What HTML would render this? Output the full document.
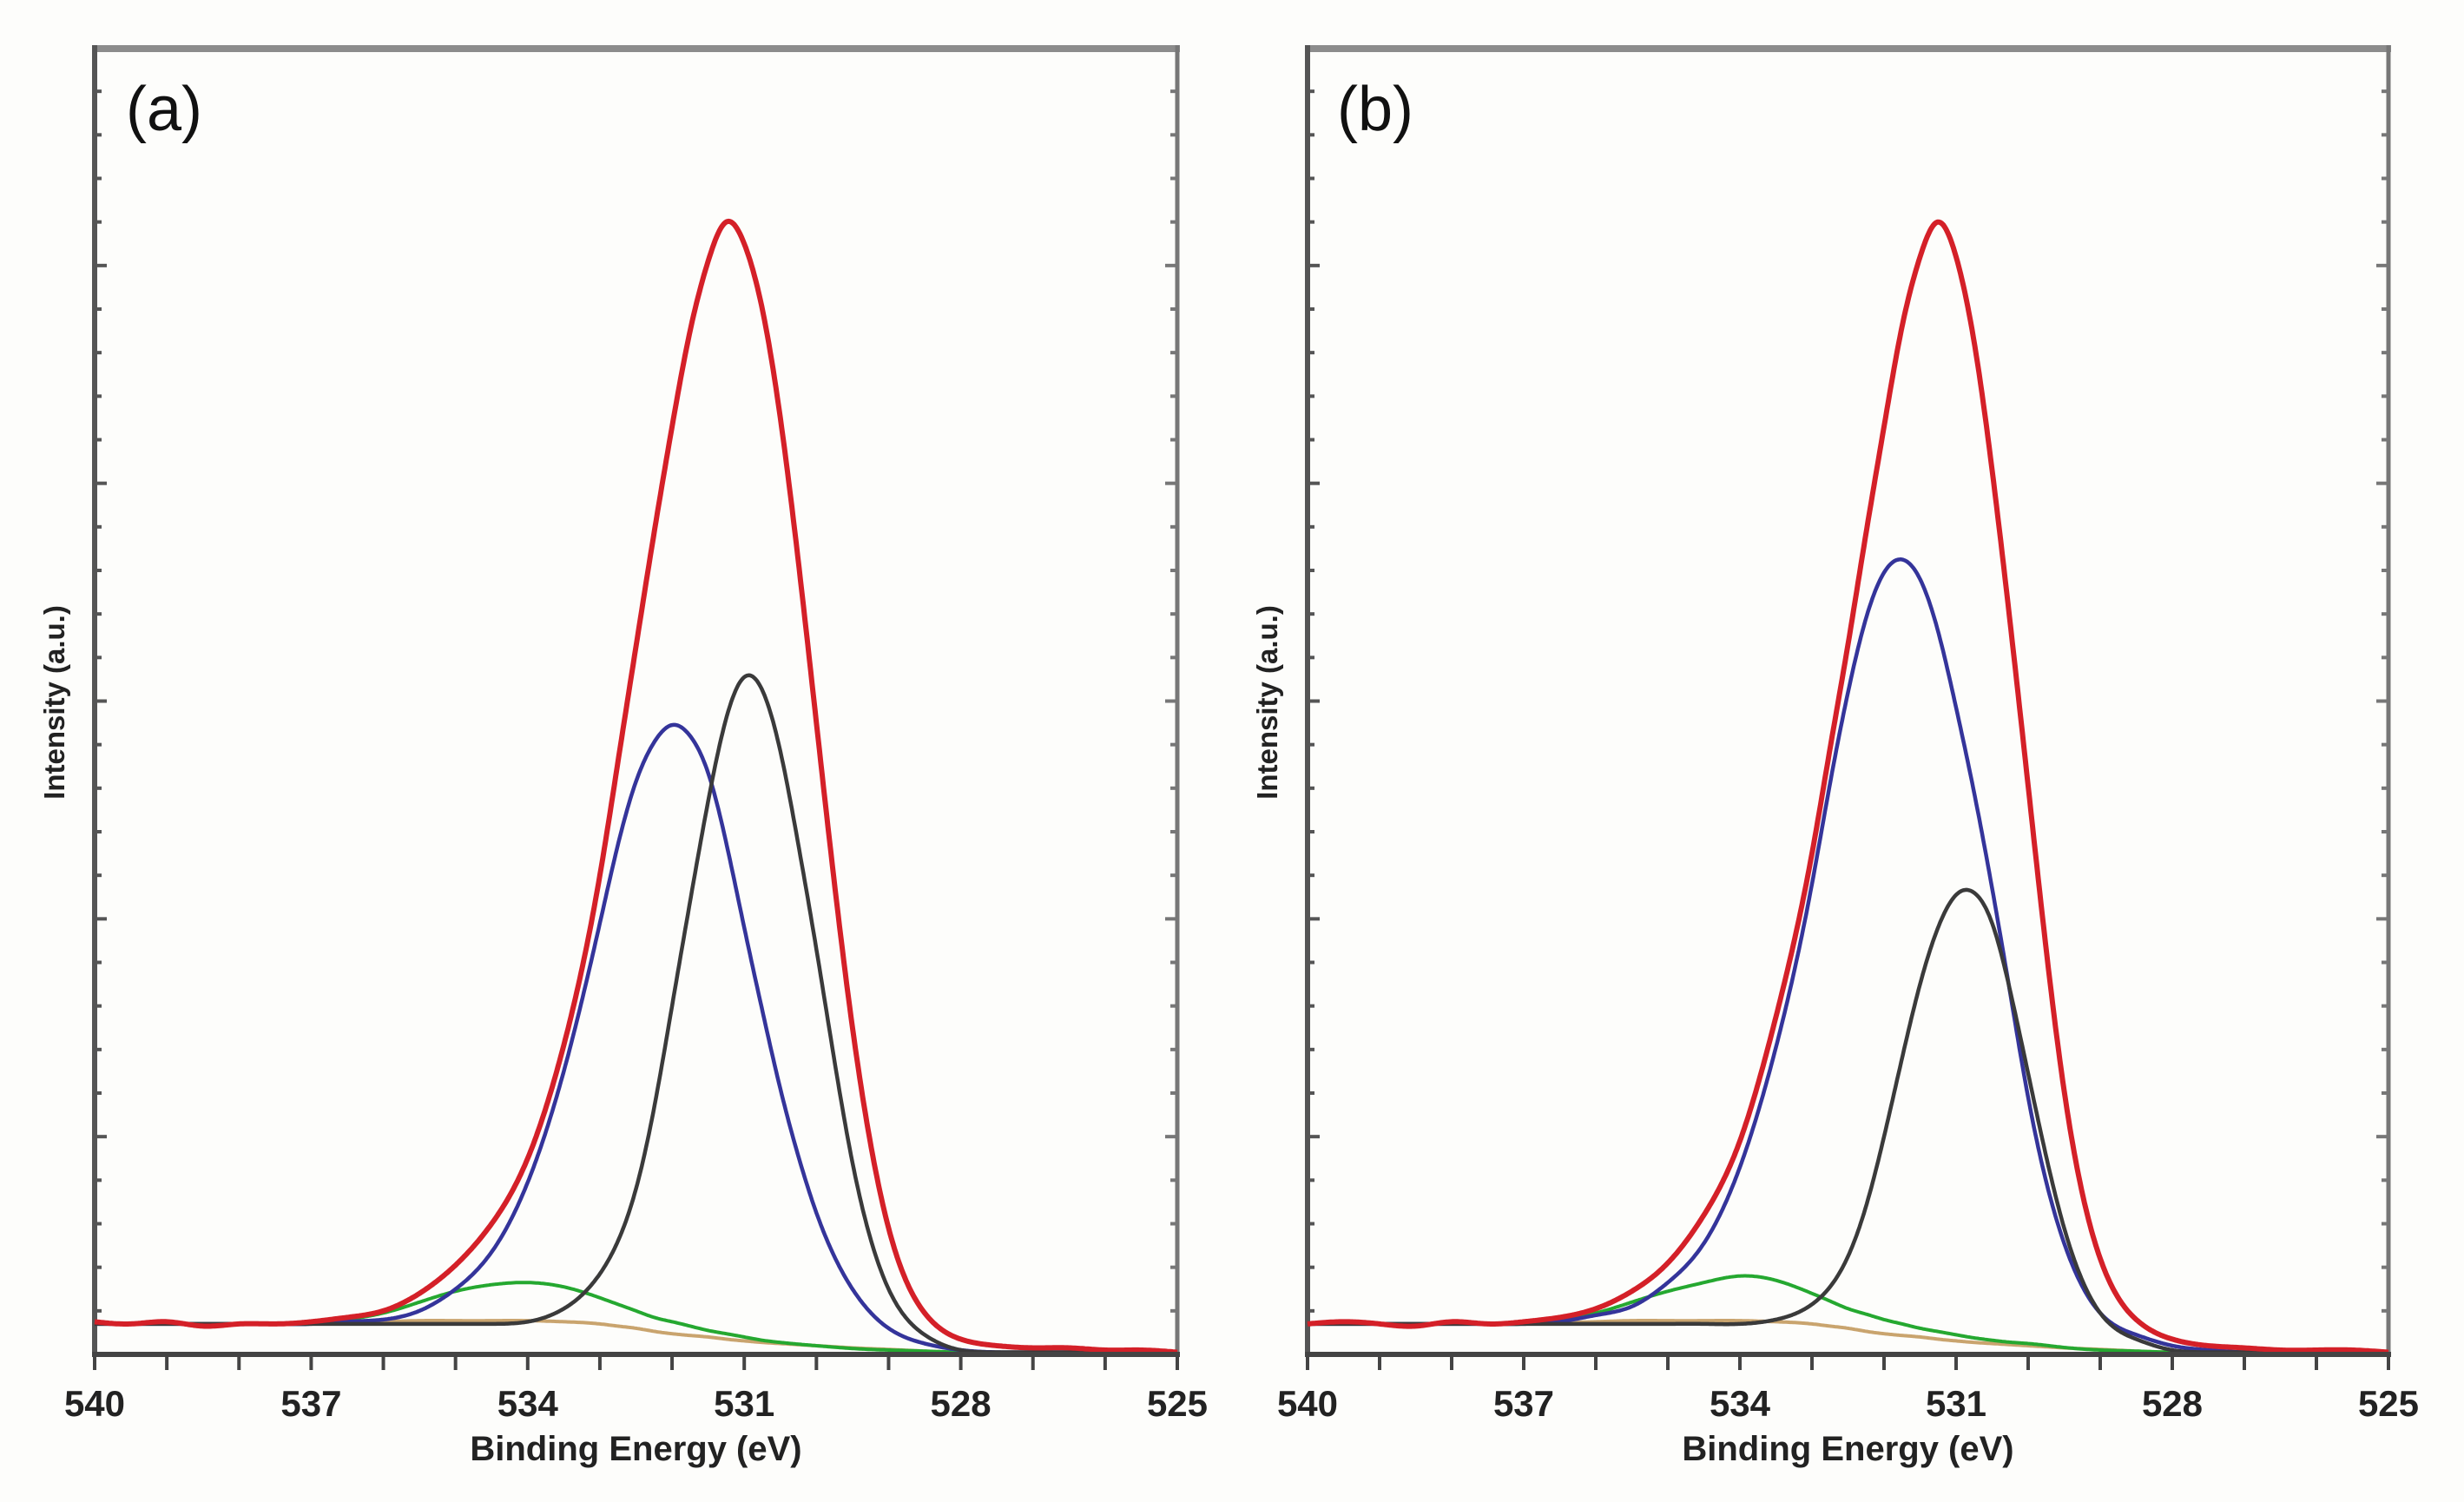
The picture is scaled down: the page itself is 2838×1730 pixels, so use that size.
<!DOCTYPE html>
<html><head><meta charset="utf-8"><style>
html,body{margin:0;padding:0;background:#fdfdfb;}
svg{display:block;}
text{font-family:"Liberation Sans",sans-serif;}
</style></head>
<body>
<svg id="fig" width="2838" height="1730" viewBox="0 0 2838 1730" xmlns="http://www.w3.org/2000/svg">
<rect x="0" y="0" width="2838" height="1730" fill="#fdfdfb"/>
</svg>
<script>
const energy = [540,539.5,539,538.5,538,537.5,537,536.5,536,535.5,535,534.5,534,533.5,533,532.75,532.5,532.25,532,531.75,531.5,531.25,531,530.75,530.5,530.25,530,529.5,529,528.5,528,527.5,527,526.5,526,525.5,525];
const xTicks = [540,537,534,531,528,525];
const xTickLabels = ["540","537","534","531","528","525"];
const red_a = [0.15,0.14,0.15,0.13,0.14,0.14,0.15,0.17,0.20,0.28,0.41,0.60,0.90,1.42,2.20,2.72,3.25,3.77,4.26,4.70,5.02,5.20,5.10,4.80,4.30,3.64,2.90,1.50,0.58,0.19,0.07,0.04,0.03,0.03,0.02,0.02,0.01];
const blue_a = [0.14,0.14,0.14,0.14,0.14,0.14,0.14,0.15,0.16,0.20,0.30,0.47,0.79,1.30,1.98,2.34,2.63,2.81,2.89,2.84,2.67,2.35,1.96,1.58,1.22,0.91,0.65,0.30,0.12,0.05,0.02,0.01,0.01,0.01,0.01,0.01,0.01];
const black_a = [0.14,0.14,0.14,0.14,0.14,0.14,0.14,0.14,0.14,0.14,0.14,0.14,0.15,0.21,0.37,0.52,0.76,1.13,1.60,2.08,2.54,2.92,3.11,3.05,2.77,2.34,1.86,0.88,0.30,0.09,0.02,0.01,0.01,0.01,0.01,0.01,0.01];
const green_a = [0.14,0.14,0.14,0.14,0.14,0.14,0.14,0.16,0.19,0.24,0.29,0.32,0.33,0.31,0.26,0.23,0.20,0.17,0.15,0.13,0.11,0.095,0.08,0.065,0.055,0.047,0.04,0.027,0.02,0.015,0.01,0.01,0.01,0.01,0.01,0.01,0.01];
const bg_a = [0.14,0.14,0.14,0.14,0.14,0.14,0.14,0.145,0.15,0.155,0.155,0.155,0.155,0.15,0.14,0.13,0.12,0.106,0.095,0.087,0.08,0.07,0.062,0.055,0.05,0.045,0.04,0.03,0.023,0.015,0.01,0.01,0.01,0.01,0.01,0.01,0.01];
const red_b = [0.14,0.15,0.14,0.13,0.15,0.14,0.15,0.17,0.21,0.29,0.42,0.64,0.98,1.55,2.30,2.78,3.26,3.77,4.26,4.72,5.04,5.20,5.04,4.65,4.06,3.36,2.61,1.21,0.44,0.16,0.07,0.04,0.03,0.02,0.02,0.02,0.01];
const blue_b = [0.14,0.14,0.14,0.14,0.14,0.14,0.14,0.15,0.18,0.22,0.33,0.51,0.86,1.41,2.16,2.62,3.04,3.38,3.59,3.65,3.56,3.32,2.97,2.58,2.14,1.66,1.18,0.51,0.19,0.09,0.04,0.02,0.01,0.01,0.01,0.01,0.01];
const black_b = [0.14,0.14,0.14,0.14,0.14,0.14,0.14,0.14,0.14,0.14,0.14,0.14,0.14,0.16,0.23,0.31,0.45,0.68,1.00,1.36,1.70,1.96,2.11,2.12,1.98,1.67,1.29,0.58,0.19,0.07,0.02,0.01,0.01,0.01,0.01,0.01,0.01];
const green_b = [0.14,0.14,0.14,0.14,0.14,0.14,0.14,0.16,0.19,0.24,0.29,0.33,0.36,0.34,0.28,0.245,0.21,0.185,0.16,0.14,0.12,0.105,0.09,0.076,0.065,0.056,0.05,0.032,0.02,0.015,0.01,0.01,0.01,0.01,0.01,0.01,0.01];
const bg_b = [0.14,0.14,0.14,0.14,0.14,0.14,0.14,0.145,0.15,0.155,0.155,0.155,0.155,0.15,0.14,0.13,0.12,0.106,0.095,0.087,0.08,0.07,0.062,0.055,0.05,0.045,0.04,0.03,0.023,0.015,0.01,0.01,0.01,0.01,0.01,0.01,0.01];

const NS = "http://www.w3.org/2000/svg";
const svg = document.getElementById("fig");
function mk(tag, attrs, parent){const e=document.createElementNS(NS,tag);for(const k in attrs)e.setAttribute(k,attrs[k]);(parent||svg).appendChild(e);return e;}

function spline(xa, ya){
  const n = xa.length, h=[], al=[], l=[1], mu=[0], z=[0], c=new Array(n).fill(0), b=[], d=[];
  for(let i=0;i<n-1;i++) h.push(xa[i+1]-xa[i]);
  for(let i=1;i<n-1;i++) al[i]=3/h[i]*(ya[i+1]-ya[i])-3/h[i-1]*(ya[i]-ya[i-1]);
  for(let i=1;i<n-1;i++){l[i]=2*(xa[i+1]-xa[i-1])-h[i-1]*mu[i-1];mu[i]=h[i]/l[i];z[i]=(al[i]-h[i-1]*z[i-1])/l[i];}
  l[n-1]=1;z[n-1]=0;
  for(let j=n-2;j>=0;j--){c[j]=z[j]-mu[j]*c[j+1];b[j]=(ya[j+1]-ya[j])/h[j]-h[j]*(c[j+1]+2*c[j])/3;d[j]=(c[j+1]-c[j])/(3*h[j]);}
  return function(x){let j=0;while(j<n-2&&x>xa[j+1])j++;const t=x-xa[j];return ya[j]+b[j]*t+c[j]*t*t+d[j]*t*t*t;};
}

const panels = [
 {id:"a", left:109, right:1356, label:"(a)", labelX:145, ytitleX:62, series:[["background",bg_a,"#c9a46e",4],["green",green_a,"#25a830",4],["blue",blue_a,"#34349a",4.5],["black",black_a,"#3a3a3a",4.5],["red",red_a,"#d42028",6]]},
 {id:"b", left:1506, right:2751, label:"(b)", labelX:1540, ytitleX:1459, series:[["background",bg_b,"#c9a46e",4],["green",green_b,"#25a830",4],["blue",blue_b,"#34349a",4.5],["black",black_b,"#3a3a3a",4.5],["red",red_b,"#d42028",6]]}
];
const TOP = 55, BOTTOM = 1560, YMAX = 6;

panels.forEach(p => {
  const xs = e => p.left + (540 - e) / 15 * (p.right - p.left);
  const ys = v => BOTTOM - v / YMAX * (BOTTOM - TOP);
  const g = mk("g", {});
  
  

  const top = mk("line",{x1:p.left-3,y1:56,x2:p.right+3,y2:56,stroke:"#8c8c8c","stroke-width":8},g);
  
  
  const la = mk("line",{x1:p.left,y1:52,x2:p.left,y2:BOTTOM,stroke:"#555","stroke-width":6},g);
  
  
  const ra = mk("line",{x1:p.right,y1:52,x2:p.right,y2:BOTTOM,stroke:"#777","stroke-width":5},g);
  
  

  for (let i = 1; i < 30; i++) {
    const v = i * 0.2, y = ys(v), major = (i % 5 === 0), len = major ? 14 : 8;
    const t1 = mk("line",{x1:p.left,y1:y,x2:p.left+len,y2:y,stroke:"#555","stroke-width":4},g);
    
    
    const t2 = mk("line",{x1:p.right,y1:y,x2:p.right-len,y2:y,stroke:"#777","stroke-width":4},g);
    
    
  }

  p.series.forEach(s => {
    const vals = s[1];
    const xr = energy.slice().reverse(), yr = vals.slice().reverse();
    const f = spline(xr, yr);
    let d = "";
    for (let e = 525; e <= 540.0001; e += 0.02) {
      const v = f(e);
      d += (d ? " L" : "M") + xs(e).toFixed(1) + "," + ys(v).toFixed(1);
    }
    const path = mk("path",{d:d,fill:"none",stroke:s[2],"stroke-width":s[3],"stroke-linejoin":"round"},g);
    
    
  });

  const ba = mk("line",{x1:p.left-3,y1:BOTTOM,x2:p.right+3,y2:BOTTOM,stroke:"#444","stroke-width":6},g);
  
  
  for (let e = 540; e >= 525; e--) {
    const x = xs(e);
    const t = mk("line",{x1:x,y1:BOTTOM,x2:x,y2:BOTTOM+18,stroke:"#444","stroke-width":4},g);
    
    
  }
  xTicks.forEach((e,i) => {
    const t = mk("text",{x:xs(e),y:1631,"text-anchor":"middle","font-size":42,"font-weight":"bold",fill:"#222"},g);
    t.textContent = xTickLabels[i];
    
    
  });
  const xt = mk("text",{x:(p.left+p.right)/2,y:1682,"text-anchor":"middle","font-size":40,"font-weight":"bold",fill:"#222"},g);
  xt.textContent = "Binding Energy (eV)";
  
  

  const yt = mk("text",{x:0,y:0,"text-anchor":"middle","font-size":33,"font-weight":"bold",fill:"#222",transform:"translate("+(p.ytitleX+12)+",809) rotate(-90)"},g);
  yt.textContent = "Intensity (a.u.)";
  
  

  const lb = mk("text",{x:p.labelX,y:150,"font-size":72,fill:"#111"},g);
  lb.textContent = p.label;
  
  
});
</script>
</body></html>
